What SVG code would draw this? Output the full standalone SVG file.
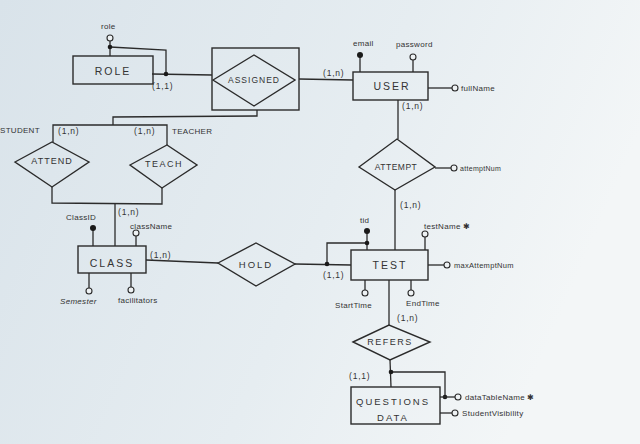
<svg xmlns="http://www.w3.org/2000/svg" width="640" height="444" viewBox="0 0 640 444">
<defs>
<linearGradient id="bg" x1="0" y1="0" x2="1" y2="0.3">
<stop offset="0" stop-color="#d9e3ea"/>
<stop offset="0.6" stop-color="#e6edf1"/>
<stop offset="1" stop-color="#f3f6f7"/>
</linearGradient>
</defs>
<style>
.e{fill:none;stroke:#2b2b2b;stroke-width:1.4}
.c{fill:none;stroke:#2b2b2b;stroke-width:1.3}
.o{fill:#eef2f4;stroke:#2b2b2b;stroke-width:1.1}
.f{fill:#1a1a1a}
.n{font-family:"Liberation Sans",Arial,sans-serif;font-size:10.5px;letter-spacing:2px;fill:#333;text-anchor:middle;dominant-baseline:central}
.a{font-family:"Liberation Sans",Arial,sans-serif;font-size:8px;letter-spacing:0.3px;fill:#333;dominant-baseline:central}
.m{font-family:"Liberation Sans",Arial,sans-serif;font-size:8.5px;letter-spacing:0.8px;fill:#333;dominant-baseline:central}
</style>
<rect width="640" height="444" fill="url(#bg)"/>

<g id="connectors">
<path class="c" d="M152 74 L212 75"/>
<path class="c" d="M110 47 L166 50 L166 74"/>
<path class="c" d="M299 79 L353 80"/>
<path class="c" d="M257 110 L257 116 L113 117 L113 125"/>
<path class="c" d="M53 142 L53 125 L167 125 L167 145"/>
<path class="c" d="M52 187 L52 203 L162 204 L162 188"/>
<path class="c" d="M115 204 L115 246"/>
<path class="c" d="M146 260 L218 263"/>
<path class="c" d="M295 264 L351 265"/>
<path class="c" d="M327 264 L327 243 L367 243"/>
<path class="c" d="M398 100 L398 139"/>
<path class="c" d="M395 190 L395 250"/>
<path class="c" d="M389 280 L389 325"/>
<path class="c" d="M390 360 L391 387"/>
<path class="c" d="M391 372 L445 372 L445 397"/>
<circle class="f" cx="166" cy="74" r="2.3"/>
<circle class="f" cx="327" cy="264" r="2.3"/>
<circle class="f" cx="391" cy="372" r="2.3"/>
<circle class="f" cx="445" cy="397" r="2.3"/>
<text class="m" x="152" y="86">(1,1)</text>
<text class="m" x="323" y="73">(1,n)</text>
<text class="m" x="58" y="131">(1,n)</text>
<text class="m" x="134" y="131">(1,n)</text>
<text class="a" x="0" y="130">STUDENT</text>
<text class="a" x="172" y="131">TEACHER</text>
<text class="m" x="118" y="212">(1,n)</text>
<text class="m" x="150" y="255">(1,n)</text>
<text class="m" x="323" y="275">(1,1)</text>
<text class="m" x="402" y="106">(1,n)</text>
<text class="m" x="400" y="205">(1,n)</text>
<text class="m" x="397" y="318">(1,n)</text>
<text class="m" x="349" y="376">(1,1)</text>
</g>

<g id="role">
<rect class="e" x="73" y="56" width="80" height="28"/>
<text class="n" x="113" y="71">ROLE</text>
<path class="c" d="M110 41 L110 56"/>
<circle class="f" cx="110" cy="47" r="2.3"/>
<circle class="o" cx="110" cy="38" r="3"/>
<text class="a" x="101" y="26">role</text>
</g>

<g id="assigned">
<rect class="e" x="212" y="48" width="87" height="62"/>
<polygon class="e" points="213,80 254,55 295,80 254,106"/>
<text class="a" x="254" y="80" text-anchor="middle" style="font-size:8.5px;letter-spacing:1px">ASSIGNED</text>
</g>

<g id="user">
<rect class="e" x="353" y="72" width="75" height="28"/>
<text class="n" x="392" y="86">USER</text>
<path class="c" d="M360 55 L360 72"/>
<circle class="f" cx="360" cy="55" r="3"/>
<text class="a" x="353" y="43">email</text>
<path class="c" d="M413 60 L413 72"/>
<circle class="o" cx="413" cy="57" r="3"/>
<text class="a" x="396" y="44">password</text>
<path class="c" d="M428 88 L452 88"/>
<circle class="o" cx="455" cy="88" r="3"/>
<text class="a" x="461" y="88">fullName</text>
</g>

<g id="attend">
<polygon class="e" points="15,162 52,142 89,162 52,187"/>
<text class="a" x="52" y="161" text-anchor="middle" style="font-size:9px;letter-spacing:1px">ATTEND</text>
</g>

<g id="teach">
<polygon class="e" points="130,165 167,145 197,165 162,188"/>
<text class="a" x="164" y="164" text-anchor="middle" style="font-size:9px;letter-spacing:1.5px">TEACH</text>
</g>

<g id="attempt">
<polygon class="e" points="359,167 397,139 435,167 395,190"/>
<text class="a" x="396" y="167" text-anchor="middle" style="font-size:8.5px;letter-spacing:0.5px">ATTEMPT</text>
<path class="c" d="M435 168 L451 168"/>
<circle class="o" cx="454" cy="168" r="3"/>
<text class="a" x="460" y="168" style="font-size:7px">attemptNum</text>
</g>

<g id="class">
<rect class="e" x="78" y="246" width="68" height="27"/>
<text class="n" x="112" y="263">CLASS</text>
<path class="c" d="M93 228 L93 246"/>
<circle class="f" cx="93" cy="228" r="3"/>
<text class="a" x="66" y="217">ClassID</text>
<path class="c" d="M136 236 L136 246"/>
<circle class="o" cx="136" cy="233" r="3"/>
<text class="a" x="130" y="226">className</text>
<path class="c" d="M89 273 L89 288"/>
<circle class="o" cx="89" cy="291" r="3"/>
<text class="a" x="60" y="301" style="font-style:italic">Semester</text>
<path class="c" d="M131 273 L131 287"/>
<circle class="o" cx="131" cy="290" r="3"/>
<text class="a" x="118" y="300">facilitators</text>
</g>

<g id="hold">
<polygon class="e" points="218,263 256,243 295,264 256,286"/>
<text class="n" x="256" y="264" style="font-size:9.5px">HOLD</text>
</g>

<g id="test">
<rect class="e" x="351" y="250" width="77" height="30"/>
<text class="n" x="390" y="265">TEST</text>
<path class="c" d="M367 232 L367 250"/>
<circle class="f" cx="367" cy="231" r="3"/>
<circle class="f" cx="367" cy="243" r="2.3"/>
<text class="a" x="360" y="220">tid</text>
<path class="c" d="M425 237 L425 250"/>
<circle class="o" cx="425" cy="234" r="3"/>
<text class="a" x="424" y="226">testName ✱</text>
<path class="c" d="M428 265 L444 265"/>
<circle class="o" cx="447" cy="265" r="3"/>
<text class="a" x="454" y="265" style="font-size:7.5px">maxAttemptNum</text>
<path class="c" d="M365 280 L365 290"/>
<circle class="o" cx="365" cy="293" r="3"/>
<text class="a" x="335" y="305">StartTime</text>
<path class="c" d="M411 280 L411 290"/>
<circle class="o" cx="411" cy="293" r="3"/>
<text class="a" x="406" y="303">EndTime</text>
</g>

<g id="refers">
<polygon class="e" points="353,342 389,325 430,342 390,360"/>
<text class="a" x="390" y="342" text-anchor="middle" style="font-size:9px;letter-spacing:1.5px">REFERS</text>
</g>

<g id="questions-data">
<rect class="e" x="351" y="387" width="89" height="37"/>
<text class="n" x="393" y="401" style="font-size:9.5px">QUESTIONS</text>
<text class="n" x="393" y="417" style="font-size:9.5px">DATA</text>
<path class="c" d="M440 397 L455 397"/>
<circle class="o" cx="458" cy="397" r="3"/>
<text class="a" x="465" y="397">dataTableName ✱</text>
<path class="c" d="M440 413 L452 413"/>
<circle class="o" cx="455" cy="413" r="3"/>
<text class="a" x="462" y="413">StudentVisibility</text>
</g>
</svg>
